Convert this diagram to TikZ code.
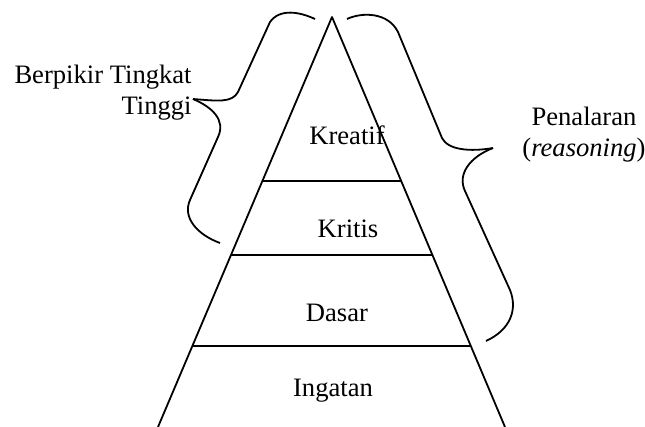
\documentclass[tikz,border=0pt]{standalone}
\usepackage{fontspec}
\setmainfont{Liberation Serif}
\usetikzlibrary{calc}
\begin{document}
\begin{tikzpicture}[x=0.5pt,y=-0.5pt,
  ln/.style={line width=0.9pt,line join=round},
  lbl/.style={font=\fontsize{13.3}{15.4}\selectfont,inner sep=0pt}]
\useasboundingbox (0,0) rectangle (645,427);
% pyramid
\coordinate (apex) at (332,17);
\coordinate (bl) at (158,427);
\coordinate (br) at (505,427);
\draw[ln] (bl) -- (apex) -- (br);
\foreach \t/\n in {0.4/a,0.5805/b,0.8024/c}{
  \coordinate (l\n) at ($(apex)!\t!(bl)$);
  \coordinate (r\n) at ($(apex)!\t!(br)$);
  \draw[ln] (l\n) -- (r\n);
}
\node[lbl] (kreatif) at (347,135) {Kreatif};
\node[lbl] (kritis) at (348,229) {Kritis};
\node[lbl] (dasar) at (337,313) {Dasar};
\node[lbl] (ingatan) at (333,391) {Ingatan};
% left brace
\coordinate (lbtop) at (315,19);
\coordinate (lbmid) at (193,99);
\coordinate (lbbot) at (220,243);
\draw[ln] (lbtop) .. controls (300,12) and (280,8) .. (270,22) -- (238,92)
  .. controls (232,103) and (218,101) .. (lbmid);
\draw[ln] (lbmid) .. controls (212,107) and (226,120) .. (218,137) -- (190,200)
  .. controls (182,218) and (198,235) .. (lbbot);
% right brace
\coordinate (rbtop) at (347,19);
\coordinate (rbmid) at (493,148);
\coordinate (rbbot) at (486,341);
\draw[ln] (rbtop) .. controls (362,12) and (388,12) .. (398,32) -- (442,138)
  .. controls (448,150) and (470,152) .. (rbmid);
\draw[ln] (rbmid) .. controls (470,157) and (457,174) .. (465,191) -- (510,290)
  .. controls (518,310) and (510,330) .. (rbbot);
% labels
\node[lbl,align=right,anchor=east] (hot) at (192,93) {Berpikir Tingkat\\Tinggi};
\node[lbl,align=center] (pen) at (584,135) {Penalaran\\(\textit{reasoning})};
\end{tikzpicture}
\end{document}
